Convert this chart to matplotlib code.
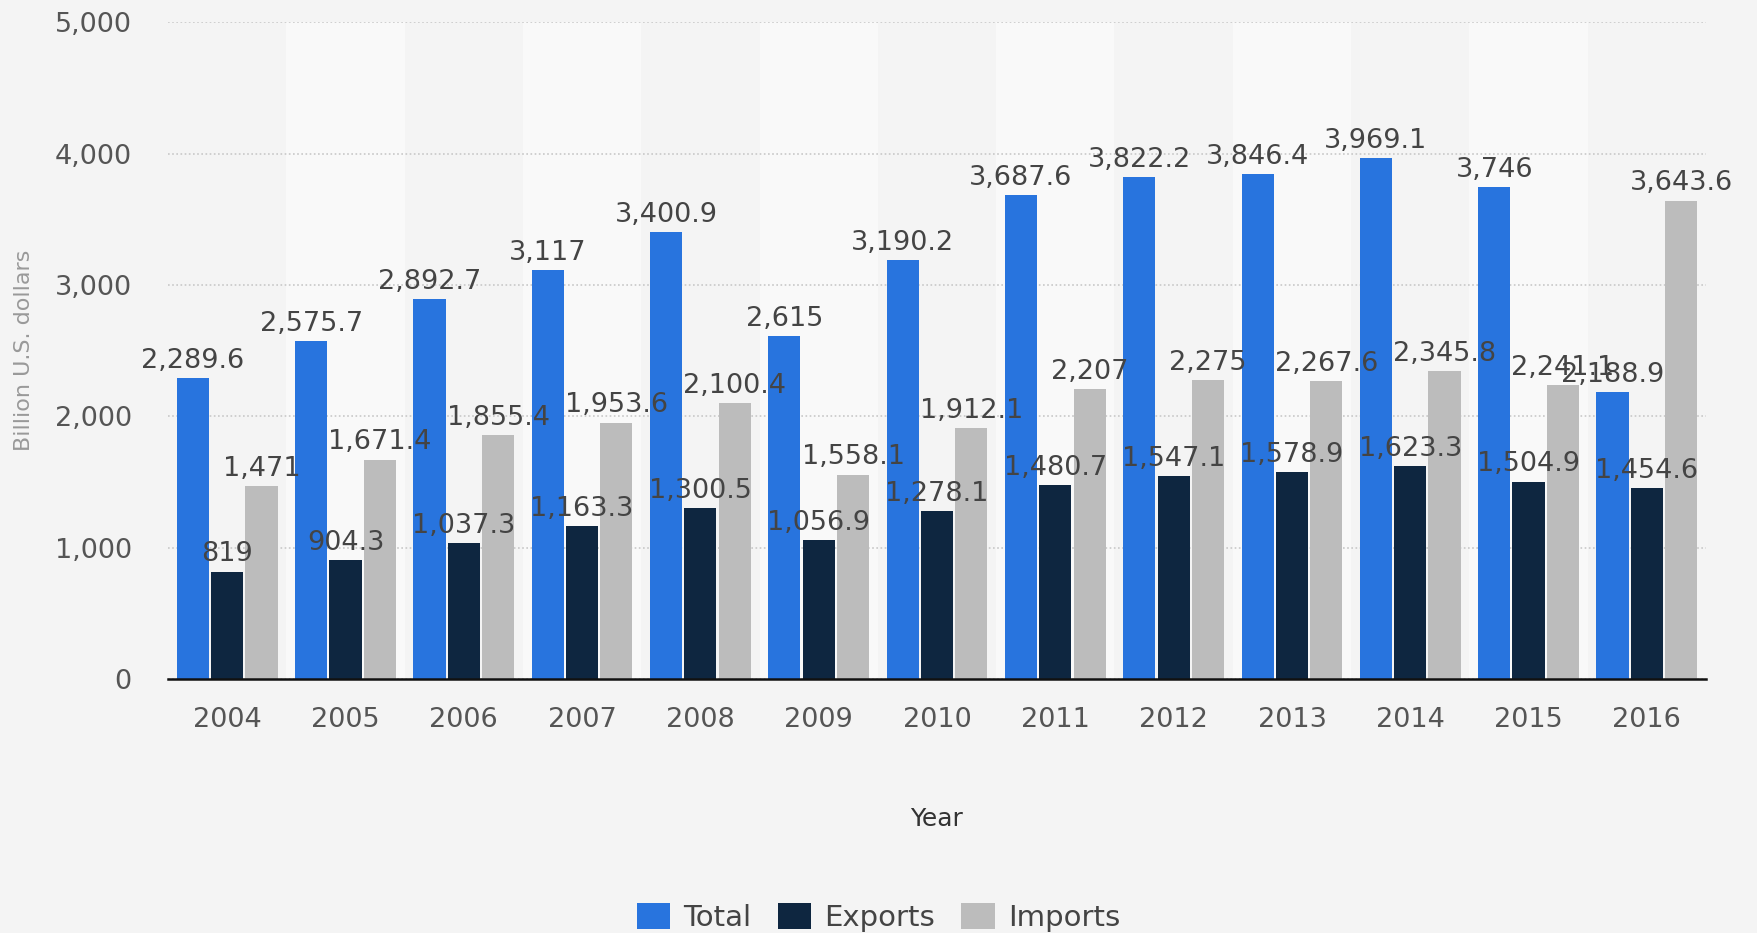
import matplotlib.pyplot as plt
import numpy as np

# data
years = ["2004", "2005", "2006", "2007", "2008", "2009", "2010",
         "2011", "2012", "2013", "2014", "2015", "2016"]
total = [2289.6, 2575.7, 2892.7, 3117, 3400.9, 2615, 3190.2,
         3687.6, 3822.2, 3846.4, 3969.1, 3746, 2188.9]
exports = [819, 904.3, 1037.3, 1163.3, 1300.5, 1056.9, 1278.1,
           1480.7, 1547.1, 1578.9, 1623.3, 1504.9, 1454.6]
imports = [1471, 1671.4, 1855.4, 1953.6, 2100.4, 1558.1, 1912.1,
           2207, 2275, 2267.6, 2345.8, 2241.1, 3643.6]

BG = "#f4f4f4"
fig = plt.figure(figsize=(17.57, 9.33), dpi=100, facecolor=BG)
ax = fig.add_axes([0.0956, 0.272, 0.8754, 0.704])
ax.set_facecolor(BG)

x = np.arange(len(years))
w = 0.272
step = 0.29

# light stripes on every other year
for i in x:
    if i % 2 == 1:
        ax.axvspan(i - 0.5, i + 0.5, color="#f9f9f9", zorder=0, lw=0)

series = [(total, "Total", "#2874de"), (exports, "Exports", "#0e2640"),
          (imports, "Imports", "#bcbcbc")]

def fmt(v):
    s = f"{v:,.1f}"
    if s.endswith(".0"):
        s = s[:-2]
    return s

for k, (vals, name, col) in enumerate(series):
    xs = x + (k - 1) * step
    ax.bar(xs, vals, width=w, color=col, label=name, zorder=3)
    for xi, v in zip(xs, vals):
        ax.annotate(fmt(v), (xi, v), xytext=(0, 3), textcoords="offset points",
                    ha="center", va="bottom", fontsize=19.5, color="#444444", zorder=4)

ax.set_xlim(-0.5, len(years) - 0.5)
ax.set_ylim(0, 5000)
ax.set_yticks([0, 1000, 2000, 3000, 4000, 5000])
ax.set_yticklabels(["0", "1,000", "2,000", "3,000", "4,000", "5,000"])
ax.set_xticks(x)
ax.set_xticklabels(years)
ax.tick_params(axis="both", length=0, labelsize=19.5, labelcolor="#555555")
ax.tick_params(axis="y", pad=26)
ax.tick_params(axis="x", pad=20)
ax.yaxis.grid(True, linestyle=(0, (1, 1.5)), color="#c8c8c8", lw=1.2, zorder=1)

for sp in ["top", "right", "left"]:
    ax.spines[sp].set_visible(False)
ax.spines["bottom"].set_color("#111111")
ax.spines["bottom"].set_linewidth(1.8)
ax.spines["bottom"].set_zorder(5)

ax.set_ylabel("Billion U.S. dollars", fontsize=16, color="#999999")
ax.yaxis.set_label_coords(-0.087, 0.5)
ax.set_xlabel("Year", fontsize=18, color="#333333", labelpad=53)

fig.legend(loc="center", bbox_to_anchor=(0.5, 0.017), ncol=3, frameon=False,
           fontsize=21, handlelength=1.15, handleheight=1.0, columnspacing=0.9,
           handletextpad=0.45, labelcolor="#444444")

plt.savefig("out.png", dpi=100, facecolor=BG)
